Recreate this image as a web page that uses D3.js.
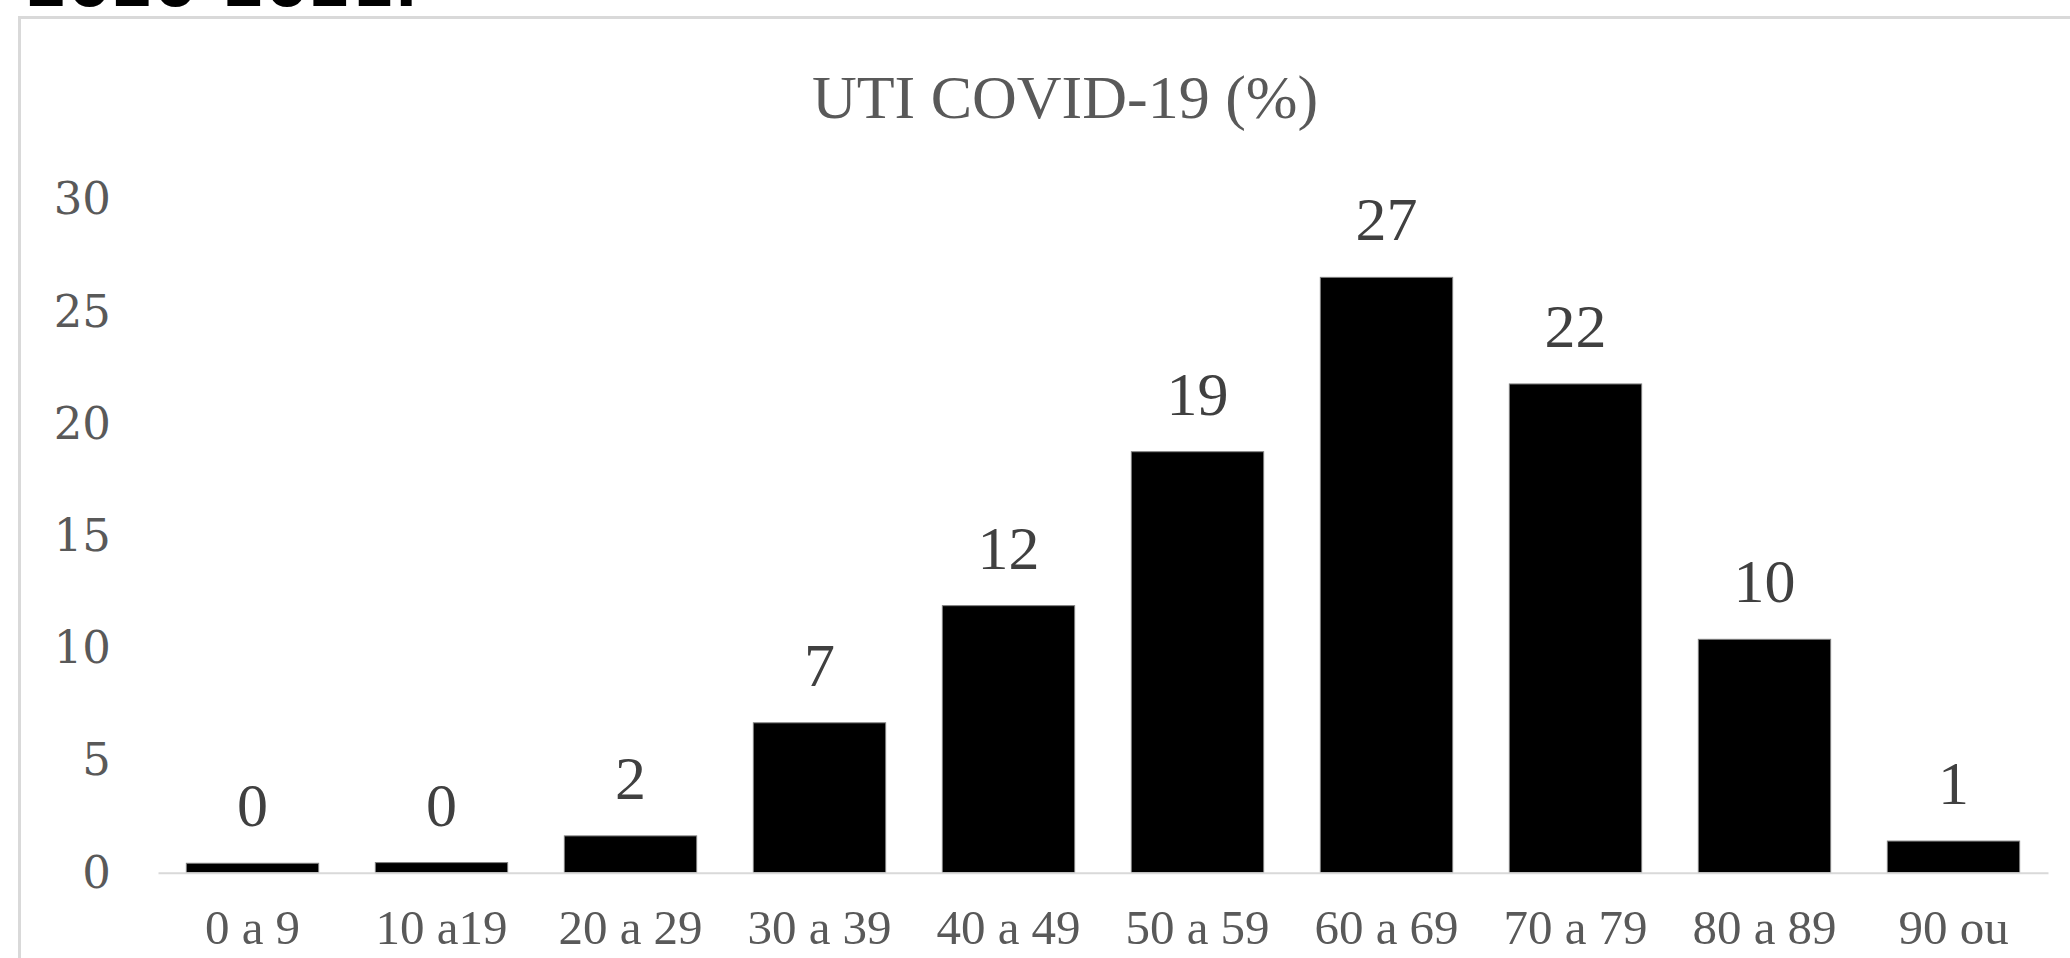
<!DOCTYPE html>
<html>
<head>
<meta charset="utf-8">
<script src="https://cdn.jsdelivr.net/npm/d3@7"></script>
<style>
  html, body { margin: 0; padding: 0; background: #fff; }
  svg { display: block; }
</style>
</head>
<body>
<svg id="chart" width="2070" height="958"></svg>
<script>
// age groups, share of ICU admissions (bar heights)
var categories = ["0 a 9", "10 a19", "20 a 29", "30 a 39", "40 a 49", "50 a 59", "60 a 69", "70 a 79", "80 a 89", "90 ou"];
var values = [0.42, 0.45, 1.64, 6.68, 11.9, 18.76, 26.53, 21.78, 10.4, 1.41];
var valueLabels = ["0", "0", "2", "7", "12", "19", "27", "22", "10", "1"];
var yTicks = [0, 5, 10, 15, 20, 25, 30];

var chartTitle = "UTI COVID-19 (%)";
var headerText = "2020-2021.";

var svg = d3.select("svg#chart");
var width = +svg.attr("width");
var height = +svg.attr("height");

svg.append("rect")
    .attr("width", width)
    .attr("height", height)
    .attr("fill", "white");

// cut-off caption line above the chart
svg.append("text")
    .attr("x", 25)
    .attr("y", 6)
    .attr("textLength", 393)
    .attr("lengthAdjust", "spacingAndGlyphs")
    .style("font-family", "'DejaVu Sans', sans-serif")
    .style("font-weight", "bold")
    .style("font-size", "62px")
    .style("fill", "black")
    .text(headerText);

// chart frame (only top and left edges are on screen)
svg.append("rect")
    .attr("x", 19.5)
    .attr("y", 17.5)
    .attr("width", 2200)
    .attr("height", 1100)
    .attr("fill", "none")
    .attr("stroke", "#d9d9d9")
    .attr("stroke-width", 3);

var x = d3.scaleBand()
    .domain(categories)
    .range([158, 2048])
    .paddingInner(0.3)
    .paddingOuter(0.15);

var y = d3.scaleLinear()
    .domain([0, 30])
    .range([872.7, 199.5]);

// title
svg.append("text")
    .attr("x", 1065)
    .attr("y", 118)
    .style("text-anchor", "middle")
    .style("font-family", "'Liberation Serif', 'Times New Roman', serif")
    .style("font-size", "62px")
    .style("fill", "#595959")
    .text(chartTitle);

// y axis: labels only
var yAxis = d3.axisLeft(y)
    .tickValues(yTicks)
    .tickSize(0)
    .tickPadding(47);

var gy = svg.append("g")
    .attr("transform", "translate(158,0)")
    .call(yAxis);
gy.select(".domain").remove();
gy.selectAll("text")
    .style("font-family", "'DejaVu Serif', serif")
    .style("font-size", "45px")
    .style("fill", "#595959");

// bars
svg.append("g").selectAll("rect")
    .data(values)
    .enter().append("rect")
    .attr("x", function(d, i) { return x(categories[i]); })
    .attr("y", function(d) { return y(d); })
    .attr("width", x.bandwidth())
    .attr("height", function(d) { return y(0) - y(d); })
    .attr("fill", "black")
    .attr("stroke", "#7f7f7f")
    .attr("stroke-width", 1);

// x axis
var xAxis = d3.axisBottom(x)
    .tickSize(0)
    .tickSizeOuter(0);

var gx = svg.append("g")
    .attr("transform", "translate(0," + y(0) + ")")
    .call(xAxis);
gx.select(".domain")
    .attr("stroke", "#d9d9d9")
    .attr("stroke-width", 2);
gx.selectAll("text")
    .attr("y", 71)
    .attr("dy", null)
    .style("font-family", "'Liberation Serif', 'Times New Roman', serif")
    .style("font-size", "49px")
    .style("fill", "#595959");

// value labels above bars
svg.append("g").selectAll("text")
    .data(values)
    .enter().append("text")
    .attr("x", function(d, i) { return x(categories[i]) + x.bandwidth() / 2; })
    .attr("y", function(d) { return y(d) - 37; })
    .style("text-anchor", "middle")
    .style("font-family", "'Liberation Serif', 'Times New Roman', serif")
    .style("font-size", "62px")
    .style("fill", "#404040")
    .text(function(d, i) { return valueLabels[i]; });
</script>
</body>
</html>
